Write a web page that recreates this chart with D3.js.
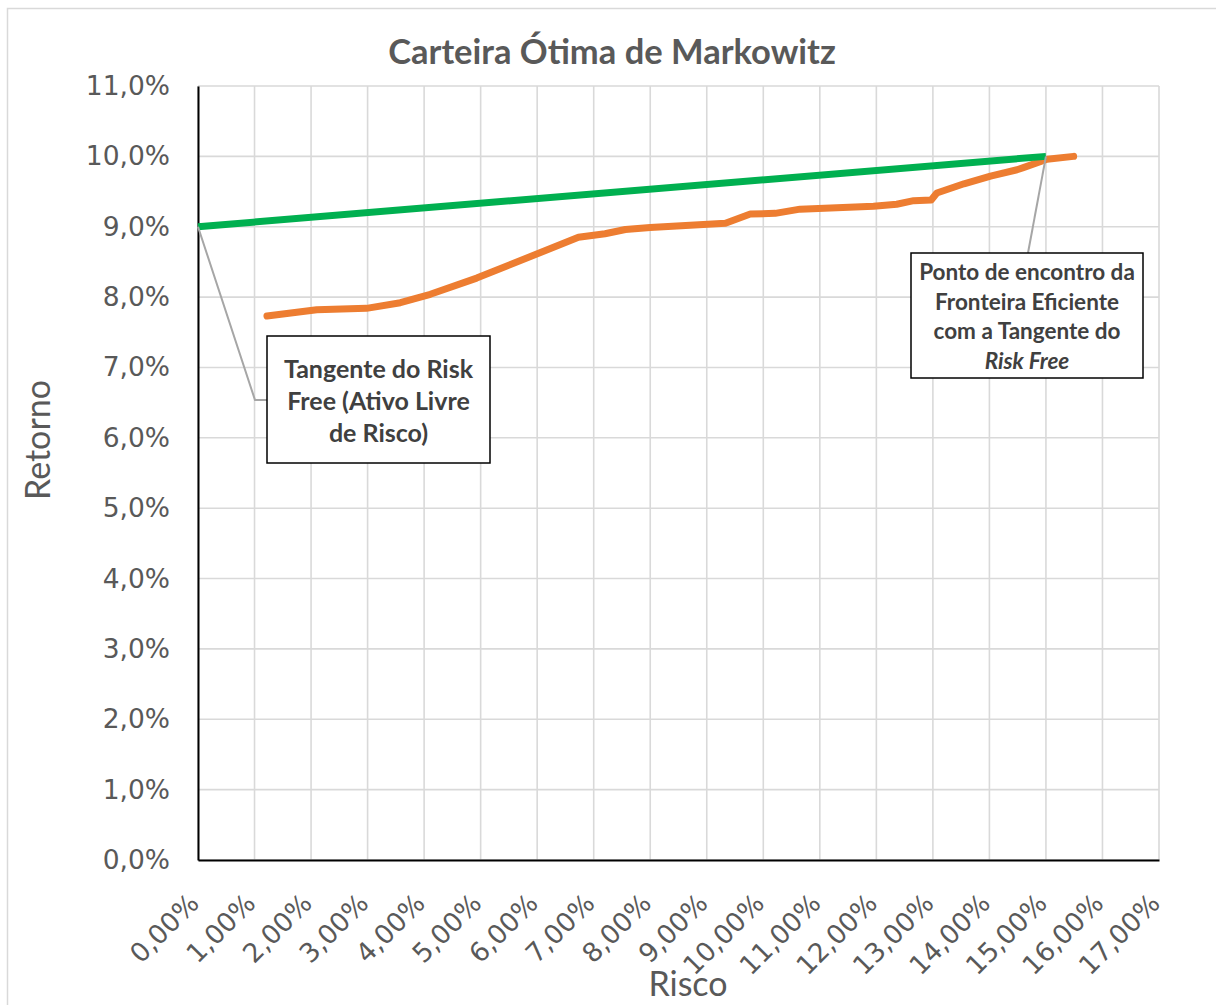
<!DOCTYPE html>
<html><head><meta charset="utf-8">
<script src="https://cdn.jsdelivr.net/npm/d3@7"></script>
<style>
html,body{margin:0;padding:0;background:#fff;}
svg{display:block;}
.tick text{font-family:"DejaVu Sans";}
</style></head>
<body>
<svg id="chart" width="1216" height="1005"></svg>
<script>
// ---- data ----
const title = "Carteira Ótima de Markowitz";
const xAxisTitle = "Risco";
const yAxisTitle = "Retorno";
const xTicks = [0,1,2,3,4,5,6,7,8,9,10,11,12,13,14,15,16,17];
const yTicks = [0,1,2,3,4,5,6,7,8,9,10,11];
// efficient frontier (orange): risk %, return %
const frontierRisk   = [1.22, 2.10, 2.98, 3.58, 4.11, 4.93, 6.73, 7.20, 7.56, 8.00, 9.33, 9.77, 10.21, 10.65, 11.95, 12.36, 12.66, 12.97, 13.07, 13.55, 14.02, 14.49, 14.60, 15.02, 15.49];
const frontierReturn = [7.73, 7.82, 7.84, 7.92, 8.04, 8.27, 8.85, 8.90, 8.96, 8.99, 9.05, 9.18, 9.19, 9.25, 9.29, 9.32, 9.37, 9.38, 9.48, 9.61, 9.72, 9.81, 9.84, 9.96, 10.00];
// capital market line (green): from risk-free to tangency
const tangentRisk   = [0, 15];
const tangentReturn = [9.0, 10.0];
// annotations
const note1Lines = ["Tangente do Risk", "Free (Ativo Livre", "de Risco)"];
const note2Lines = ["Ponto de encontro da", "Fronteira Eficiente", "com a Tangente do", "Risk Free"];

// ---- layout ----
const svg = d3.select("#chart");
const L = 198, R = 1159, T = 86, B = 860;
const x = d3.scaleLinear().domain([0, 17]).range([L, R]);
const y = d3.scaleLinear().domain([0, 11]).range([B, T]);
const grey = "#595959";
const tickFont = "'DejaVu Sans'";
const textFont = "Lato, 'Open Sans', sans-serif";

// chart border
svg.append("rect").attr("x", 7.5).attr("y", 8.5).attr("width", 1230).attr("height", 1010)
  .attr("fill", "#fff").attr("stroke", "#d9d9d9").attr("stroke-width", 1.5);

// gridlines
svg.append("g").selectAll("line.v").data(xTicks).join("line")
  .attr("x1", d => x(d)).attr("x2", d => x(d)).attr("y1", T).attr("y2", B)
  .attr("stroke", "#d9d9d9").attr("stroke-width", 1.6);
svg.append("g").selectAll("line.h").data(yTicks).join("line")
  .attr("x1", L).attr("x2", R).attr("y1", d => y(d)).attr("y2", d => y(d))
  .attr("stroke", "#d9d9d9").attr("stroke-width", 1.6);

// axes
const yAxis = d3.axisLeft(y).tickValues(yTicks).tickSize(0).tickPadding(28)
  .tickFormat(d => d.toFixed(1).replace(".", ",") + "%");
const gy = svg.append("g").attr("transform", `translate(${L},0)`).call(yAxis)
  .attr("font-family", null).attr("font-size", null);
gy.select(".domain").attr("stroke", "#000").attr("stroke-width", 2);
gy.selectAll("text").style("font-family", tickFont).style("font-size", "26.5px").attr("fill", grey);

const xAxis = d3.axisBottom(x).tickValues(xTicks).tickSize(0)
  .tickFormat(d => d.toFixed(2).replace(".", ",") + "%");
const gx = svg.append("g").attr("transform", `translate(0,${B})`).call(xAxis)
  .attr("font-family", null).attr("font-size", null);
gx.select(".domain").attr("stroke", "#000").attr("stroke-width", 2);
gx.selectAll("text").style("font-family", tickFont).style("font-size", "26.5px").attr("fill", grey)
  .attr("text-anchor", "end").attr("dy", null).attr("y", 0)
  .attr("transform", "translate(2,45) rotate(-45)");

// series
const line = d3.line().x(d => x(d[0])).y(d => y(d[1]));
svg.append("path").datum(d3.zip(frontierRisk, frontierReturn))
  .attr("d", line).attr("fill", "none").attr("stroke", "#ED7D31")
  .attr("stroke-width", 7).attr("stroke-linecap", "round").attr("stroke-linejoin", "round");
svg.append("path").datum(d3.zip(tangentRisk, tangentReturn))
  .attr("d", line).attr("fill", "none").attr("stroke", "#00B050")
  .attr("stroke-width", 7).attr("stroke-linecap", "butt");

// title & axis titles
svg.append("text").attr("x", 612).attr("y", 64).attr("text-anchor", "middle")
  .style("font-family", textFont).attr("font-weight", 700).style("font-size", "34.5px")
  .attr("fill", grey).text(title);
svg.append("text").attr("x", 688).attr("y", 996).attr("text-anchor", "middle")
  .style("font-family", textFont).style("font-size", "34px").attr("fill", grey).text(xAxisTitle);
svg.append("text").attr("transform", "translate(50,440) rotate(-90)").attr("text-anchor", "middle")
  .style("font-family", textFont).style("font-size", "34px").attr("fill", grey).text(yAxisTitle);

// annotation 1: risk-free point
const p1 = [x(tangentRisk[0]), y(tangentReturn[0])];
svg.append("polyline").attr("points", `${p1[0]},${p1[1]} 255,400 267,400`)
  .attr("fill", "none").attr("stroke", "#a6a6a6").attr("stroke-width", 2);
svg.append("rect").attr("x", 267).attr("y", 336).attr("width", 223).attr("height", 127)
  .attr("fill", "#fff").attr("stroke", "#000").attr("stroke-width", 1.5);
svg.append("g").selectAll("text").data(note1Lines).join("text")
  .attr("x", 378.5).attr("y", (d, i) => 378 + i * 32).attr("text-anchor", "middle")
  .style("font-family", textFont).attr("font-weight", 700).style("font-size", "25px")
  .attr("fill", "#404040").text(d => d);

// annotation 2: tangency point
const p2 = [x(tangentRisk[1]), y(tangentReturn[1])];
svg.append("line").attr("x1", p2[0]).attr("y1", p2[1]).attr("x2", 1028).attr("y2", 253)
  .attr("stroke", "#a6a6a6").attr("stroke-width", 2);
svg.append("rect").attr("x", 911).attr("y", 253).attr("width", 232).attr("height", 125)
  .attr("fill", "#fff").attr("stroke", "#000").attr("stroke-width", 1.5);
svg.append("g").selectAll("text").data(note2Lines).join("text")
  .attr("x", 1027).attr("y", (d, i) => 280 + i * 29.5).attr("text-anchor", "middle")
  .style("font-family", textFont).attr("font-weight", 700).style("font-size", "22.5px")
  .style("font-style", (d, i) => i === 3 ? "italic" : "normal")
  .attr("fill", "#404040").text(d => d);
</script>
</body></html>
